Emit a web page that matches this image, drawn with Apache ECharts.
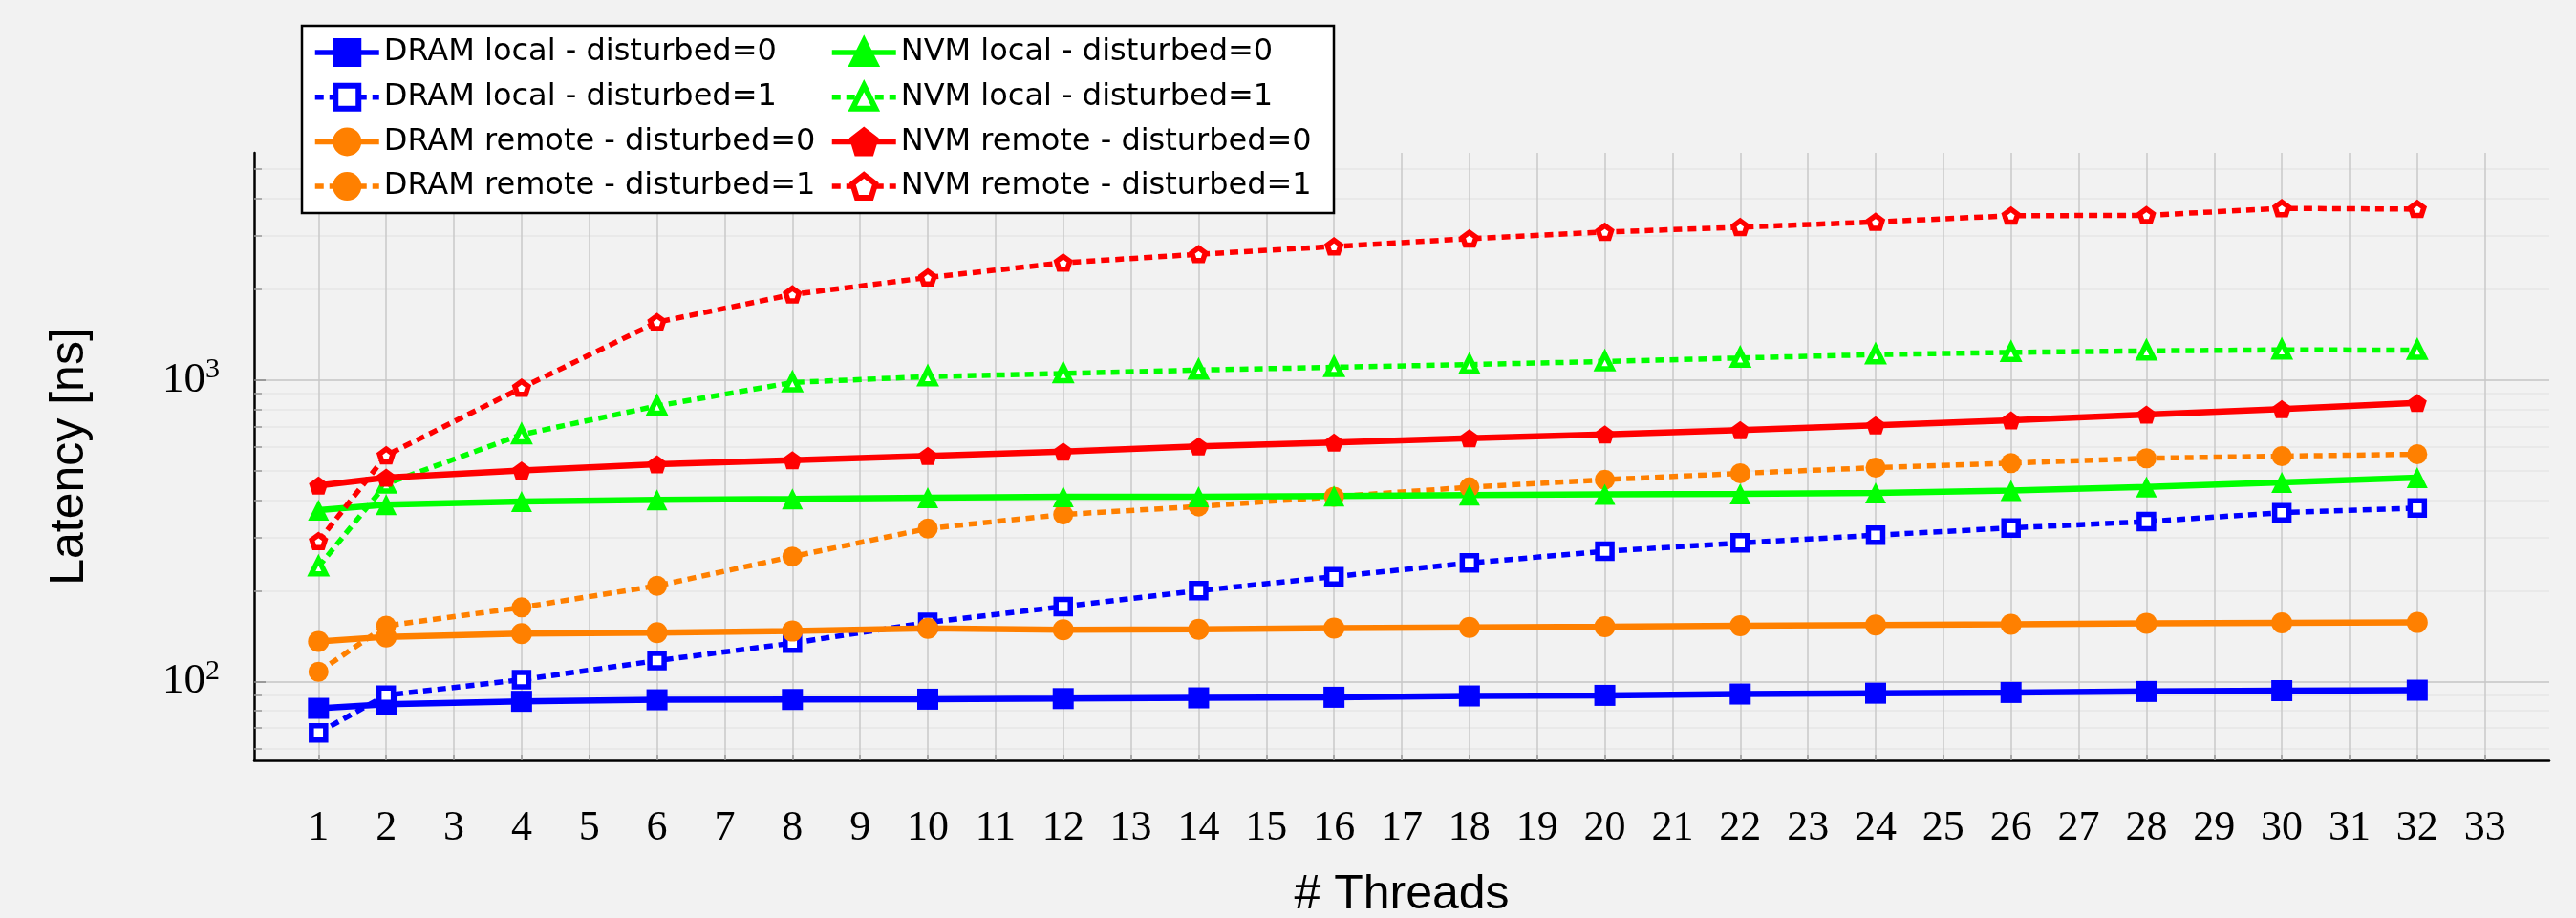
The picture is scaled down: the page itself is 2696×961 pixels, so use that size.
<!DOCTYPE html>
<html>
<head>
<meta charset="utf-8">
<script src="https://cdn.jsdelivr.net/npm/echarts@6/dist/echarts.min.js"></script>
<style>
  html, body { margin: 0; padding: 0; background: #f2f2f2; }
  #chart { width: 2696px; height: 961px; }
</style>
</head>
<body>
<div id="chart"></div>
<script>
// ---------------- data ----------------
const threads = [1, 2, 4, 6, 8, 10, 12, 14, 16, 18, 20, 22, 24, 26, 28, 30, 32];

const dramLocal0  = [81.4, 84, 85.9, 86.9, 87.1, 87.3, 87.7, 88.2, 88.6, 89.5, 89.9, 90.8, 91.4, 91.9, 92.6, 93.2, 93.5];
const dramLocal1  = [67.5, 90, 101.3, 117.2, 134, 156.9, 177.2, 200, 222.6, 247.1, 270.2, 288, 305.6, 323, 339, 363, 376];
const dramRemote0 = [135.6, 140.6, 144.1, 145.2, 146.9, 150, 148.4, 148.9, 150.2, 151.1, 152, 153, 153.8, 154.7, 156, 156.4, 156.9];
const dramRemote1 = [107.6, 153, 176, 207.6, 259.5, 321.6, 357.8, 380.6, 410, 440.6, 467, 490, 512, 530, 550, 559, 567];
const nvmLocal0   = [370, 386, 395.4, 400.3, 403.3, 407, 410, 410, 412.4, 414.8, 417.3, 419, 422, 430, 442, 457, 474];
const nvmLocal1   = [240, 452, 659, 820, 981, 1026, 1051, 1079, 1102, 1125, 1152, 1183, 1214, 1235, 1249, 1259, 1256];
const nvmRemote0  = [446.6, 474.6, 500.6, 525.5, 542, 560, 579, 602, 620, 641, 660, 682, 707, 735, 768, 801, 840];
const nvmRemote1  = [291.6, 562, 942, 1555, 1921, 2187, 2449, 2612, 2773, 2944, 3096, 3213, 3345, 3508, 3518, 3710, 3689];

const seriesNames = [
  'DRAM local - disturbed=0', 'DRAM local - disturbed=1',
  'DRAM remote - disturbed=0', 'DRAM remote - disturbed=1',
  'NVM local - disturbed=0', 'NVM local - disturbed=1',
  'NVM remote - disturbed=0', 'NVM remote - disturbed=1'
];

const xTickValues = [1, 2, 3, 4, 5, 6, 7, 8, 9, 10, 11, 12, 13, 14, 15, 16, 17, 18, 19, 20, 21, 22, 23, 24, 25, 26, 27, 28, 29, 30, 31, 32, 33];
const yMajorTicks = [100, 1000];
const yMinorTicks = [60, 70, 80, 90, 200, 300, 400, 500, 600, 700, 800, 900, 2000, 3000, 4000, 5000];

// ---------------- styles ----------------
const BLUE = '#0000ff', GREEN = '#00ff00', ORANGE = '#ff8000', RED = '#ff0000';
const PENTAGON = 'path://M50,0 L97.55,34.55 L79.39,90.45 L20.61,90.45 L2.45,34.55 Z';
const DASH = [9, 6];

function mkSeries(name, values, color, dashed, symbol, size, open, borderW) {
  return {
    name: name,
    type: 'line',
    data: threads.map((t, i) => [t, values[i]]),
    symbol: symbol,
    symbolSize: size,
    symbolKeepAspect: true,
    lineStyle: { color: color, width: dashed ? 5.5 : 6.5, type: dashed ? DASH : 'solid' },
    itemStyle: open
      ? { color: '#ffffff', borderColor: color, borderWidth: borderW }
      : { color: color, borderColor: color, borderWidth: 0 },
    emphasis: { disabled: true },
    z: 2
  };
}

const series = [
  mkSeries(seriesNames[0], dramLocal0,  BLUE,   false, 'rect', 22, false),
  mkSeries(seriesNames[1], dramLocal1,  BLUE,   true,  'rect', 15, true, 5.5),
  mkSeries(seriesNames[2], dramRemote0, ORANGE, false, 'circle', 22, false),
  mkSeries(seriesNames[3], dramRemote1, ORANGE, true,  'circle', 21, false),
  mkSeries(seriesNames[4], nvmLocal0,   GREEN,  false, 'triangle', 22, false),
  mkSeries(seriesNames[5], nvmLocal1,   GREEN,  true,  'triangle', 15, true, 5.5),
  mkSeries(seriesNames[6], nvmRemote0,  RED,    false, PENTAGON, 20, false),
  mkSeries(seriesNames[7], nvmRemote1,  RED,    true,  PENTAGON, 14, true, 5.5)
];

const legendCommon = {
  orient: 'vertical',
  top: 39,
  padding: 0,
  itemWidth: 67,
  itemHeight: 30,
  itemGap: 14.7,
  selectedMode: false,
  z: 6,
  lineStyle: { width: 5.5 },
  itemStyle: { borderWidth: 6 },
  textStyle: { fontFamily: 'DejaVu Sans', fontSize: 32, color: '#000', lineHeight: 30 }
};

const chart = echarts.init(document.getElementById('chart'), null, { renderer: 'canvas' });
chart.setOption({
  animation: false,
  backgroundColor: '#f2f2f2',
  grid: { left: 266, right: 28, top: 160, bottom: 165, containLabel: false, outerBoundsMode: 'none' },
  graphic: [{
    type: 'rect', z: 5,
    shape: { x: 316, y: 27, width: 1080, height: 196 },
    style: { fill: '#ffffff', stroke: '#000000', lineWidth: 2.5 }
  }],
  legend: [
    Object.assign({}, legendCommon, { left: 327, data: seriesNames.slice(0, 4) }),
    Object.assign({}, legendCommon, { left: 868, data: seriesNames.slice(4, 8) })
  ],
  xAxis: {
    type: 'value', min: 0.05, max: 33.95,
    axisLine: { show: true, onZero: false, lineStyle: { color: '#000', width: 2.5 } },
    axisTick: { show: true, inside: true, length: 6, customValues: xTickValues, lineStyle: { color: '#999', width: 1.5 } },
    axisLabel: { customValues: xTickValues, margin: 49, fontFamily: 'Liberation Serif', fontSize: 44, lineHeight: 44, color: '#000' },
    splitLine: { show: true, lineStyle: { color: '#c8c8c8', width: 1.5 } },
    name: '# Threads', nameLocation: 'middle', nameGap: 116,
    nameTextStyle: { fontFamily: 'Liberation Sans', fontSize: 50, color: '#000' }
  },
  yAxis: [
    {
      type: 'log', logBase: 10, min: 54.7, max: 5670, position: 'left',
      axisLine: { show: true, lineStyle: { color: '#000', width: 2.5 } },
      axisTick: { show: true, inside: true, length: 12, customValues: yMajorTicks, lineStyle: { color: '#888', width: 1.5 } },
      axisLabel: {
        customValues: yMajorTicks, margin: 36,
        formatter: v => '{b|10}{s|' + Math.round(Math.log10(v)) + '}',
        rich: {
          b: { fontFamily: 'Liberation Serif', fontSize: 45, color: '#000' },
          s: { fontFamily: 'Liberation Serif', fontSize: 30, color: '#000', padding: [0, 0, 21, 0] }
        }
      },
      splitLine: { show: true, lineStyle: { color: '#c4c4c4', width: 1.5 } },
      name: 'Latency [ns]', nameLocation: 'middle', nameGap: 168,
      nameTextStyle: { fontFamily: 'Liberation Sans', fontSize: 50, color: '#000' }
    },
    {
      type: 'log', logBase: 10, min: 54.7, max: 5670, position: 'left', offset: 0,
      axisLine: { show: false },
      axisTick: { show: true, inside: true, length: 8, customValues: yMinorTicks, lineStyle: { color: '#999', width: 1.5 } },
      axisLabel: { show: false },
      splitLine: { show: true, lineStyle: { color: '#e6e6e6', width: 1.5 } }
    }
  ],
  series: series
});
</script>
</body>
</html>
